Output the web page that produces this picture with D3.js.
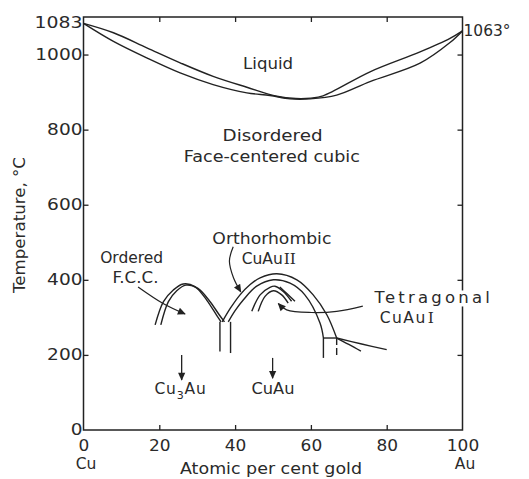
<!DOCTYPE html>
<html>
<head>
<meta charset="utf-8">
<script src="https://cdn.jsdelivr.net/npm/d3@7"></script>
<style>
  body { margin: 0; background: #fff; }
  svg text { font-family: "DejaVu Sans", sans-serif; fill: #2a2a2a; }
</style>
</head>
<body>
<div id="chart"></div>
<script>
// axes: atomic per cent gold / temperature in deg C
const xTicks = [0, 20, 40, 60, 80, 100];
const yTicks = [0, 200, 400, 600, 800, 1000];

// liquidus and solidus
const liquidus = [[0,1083],[7.9,1058],[16.7,1018],[25.5,978],[34.2,942],[43.1,913],[51,889],[56,883],[60,884],[63.2,890],[75.6,954],[88.8,1007],[96.7,1043],[100,1063]];
const solidus = [[0,1083],[7.9,1035],[16.7,991],[25.5,951],[34.2,920],[43.1,898],[49.2,891],[54.5,882],[59.8,882],[66.8,892],[75.6,928],[88.8,977],[96.7,1032],[100,1063]];

// Cu3Au ordered fcc dome
const cu3auOuter = [[18.9,280],[21.1,342],[23.7,373],[26.3,389],[29.4,382],[32.5,346],[35.1,306],[36.3,288]];
const cu3auInner = [[20.4,280],[22.4,342],[24.6,371],[27,386],[30.2,377],[33.3,343],[35.8,307],[37.2,288]];
const cu3auLeftWall = [[36.0,288],[36.0,209]];
const cu3auRightWall = [[38.8,288],[38.8,205]];

// CuAu II (orthorhombic) band
const cuauOuter = [[36.6,288],[38.8,325],[41.3,360],[43.9,387],[46.6,405],[51,416],[56.3,400],[60.6,360],[64.2,307],[66.8,245]];
const cuauInner = [[38.2,288],[40,318],[42.2,347],[45.7,383],[50.1,400],[54.5,391],[58.4,360],[62.4,285],[63.3,245]];
const cuauFloor = [[63.3,245],[66.8,245]];
const cuauLeftWall = [[63.3,245],[63.3,192]];
const cuauRightWall = [[66.8,245],[66.8,193]];
const tailUpper = [[66.8,245],[73.4,229],[80,214]];
const tailLower = [[66.8,245],[70,228],[73.2,210]];

// CuAu I (tetragonal) dome
const tetraOuter = [[44.4,316],[46.6,360],[49.2,380],[50.5,383],[52.7,369],[54.9,343]];
const tetraInner = [[46.1,316],[47.9,356],[50.1,371],[52.3,360],[54,338]];
const tetraArc = [[51.8,381],[53.8,362],[55.8,343]];

// leader arrows
const fccArrow = [[14.4,381],[21,337],[26.8,309]];
const orthoArrow = [[39.5,488],[38.5,450],[39.6,405],[41.5,368]];
const tetraArrow = [[73.7,330],[66.8,316],[60.2,313],[53.6,320],[51.4,337]];
const cu3auArrow = [[25.9,200],[25.9,133]];
const cuauArrow = [[49.9,192],[49.9,138]];

const W = 529, H = 479;
const svg = d3.select("#chart").append("svg")
  .attr("width", W).attr("height", H);

svg.append("rect").attr("width", W).attr("height", H).attr("fill", "#fff");

let x = d3.scaleLinear().domain([0, 100]).range([83.5, 462.5]);
let y = d3.scaleLinear().domain([0, 1100]).range([430, 17]);

let defs = svg.append("defs");
defs.append("marker")
  .attr("id", "head")
  .attr("viewBox", "0 0 10 10")
  .attr("refX", 9).attr("refY", 5)
  .attr("markerWidth", 9).attr("markerHeight", 8)
  .attr("markerUnits", "userSpaceOnUse")
  .attr("orient", "auto")
  .append("path")
    .attr("d", "M0,0.5 L10,5 L0,9.5 z")
    .attr("fill", "#222");

let ink = "#222";
let fs = 15.5;

// frame
svg.append("rect")
  .attr("x", x(0)).attr("y", y(1100))
  .attr("width", x(100) - x(0)).attr("height", y(0) - y(1100))
  .attr("fill", "none").attr("stroke", ink).attr("stroke-width", 1.5);

// axes with inward ticks
let fmt = d3.format("d");
let axisLeft = svg.append("g")
  .attr("transform", `translate(${x(0)},0)`)
  .call(d3.axisLeft(y).tickValues(yTicks).tickSize(-5).tickPadding(1).tickFormat(fmt));
let axisRight = svg.append("g")
  .attr("transform", `translate(${x(100)},0)`)
  .call(d3.axisRight(y).tickValues(yTicks.slice(1)).tickSize(-5).tickFormat(""));
let axisBottom = svg.append("g")
  .attr("transform", `translate(0,${y(0)})`)
  .call(d3.axisBottom(x).tickValues(xTicks).tickSize(-5).tickPadding(10).tickFormat(fmt));
let axisTop = svg.append("g")
  .attr("transform", `translate(0,${y(1100)})`)
  .call(d3.axisTop(x).tickValues(xTicks.slice(1, -1)).tickSize(-5).tickFormat(""));

[axisLeft, axisRight, axisBottom, axisTop].forEach(g => {
  g.select(".domain").remove();
  g.attr("font-family", null).attr("font-size", null);
  g.selectAll("line").attr("stroke", ink).attr("stroke-width", 1.3);
  g.selectAll("text").attr("font-size", fs).attr("fill", "#2a2a2a");
});
axisLeft.selectAll(".tick line").filter(d => d === 0).remove();
axisBottom.selectAll(".tick line").filter(d => d === 0 || d === 100).remove();
axisLeft.selectAll("text")
  .attr("textLength", d => String(d).length * 11.8)
  .attr("lengthAdjust", "spacingAndGlyphs");
axisBottom.selectAll("text")
  .attr("textLength", d => String(d).length * 10.8)
  .attr("lengthAdjust", "spacingAndGlyphs");

// boundaries
let smooth = d3.line().x(d => x(d[0])).y(d => y(d[1])).curve(d3.curveCatmullRom.alpha(0.5));
let straight = d3.line().x(d => x(d[0])).y(d => y(d[1]));

let curves = [liquidus, solidus, cu3auOuter, cu3auInner, cuauOuter, cuauInner,
  tetraOuter, tetraInner, tetraArc, tailUpper, tailLower];
svg.append("g").selectAll("path")
  .data(curves)
  .join("path")
    .attr("d", smooth)
    .attr("fill", "none")
    .attr("stroke", ink)
    .attr("stroke-width", 1.4);

let walls = [cu3auLeftWall, cu3auRightWall, cuauFloor, cuauLeftWall];
svg.append("g").selectAll("path")
  .data(walls)
  .join("path")
    .attr("d", straight)
    .attr("fill", "none")
    .attr("stroke", ink)
    .attr("stroke-width", 1.4);
svg.append("path")
  .attr("d", straight(cuauRightWall))
  .attr("fill", "none").attr("stroke", ink)
  .attr("stroke-width", 1.4).attr("stroke-dasharray", "7,3");

// leaders with arrow heads
let leaders = [fccArrow, orthoArrow, tetraArrow];
svg.append("g").selectAll("path")
  .data(leaders)
  .join("path")
    .attr("d", smooth)
    .attr("fill", "none")
    .attr("stroke", ink)
    .attr("stroke-width", 1.2)
    .attr("marker-end", "url(#head)");
svg.append("g").selectAll("path")
  .data([cu3auArrow, cuauArrow])
  .join("path")
    .attr("d", straight)
    .attr("fill", "none")
    .attr("stroke", ink)
    .attr("stroke-width", 1.3)
    .attr("marker-end", "url(#head)");

// labels
function label(px, t, str, width) {
  let el = svg.append("text")
    .attr("x", x(px)).attr("y", y(t))
    .attr("text-anchor", "middle")
    .attr("font-size", fs)
    .text(str);
  if (width) el.attr("textLength", width).attr("lengthAdjust", "spacingAndGlyphs");
  return el;
}

label(48.7, 961, "Liquid", 50);
label(49.9, 770, "Disordered", 100);
label(49.7, 713, "Face-centered cubic", 176);
label(49.7, 495, "Orthorhombic", 119);
label(12.7, 445, "Ordered", 63);
label(13.7, 392, "F.C.C.", 46);

// white gap in the right frame behind the tetragonal label
svg.append("rect")
  .attr("x", x(100) - 3).attr("y", y(337) - 13)
  .attr("width", 6).attr("height", 16)
  .attr("fill", "#fff");
svg.append("text")
  .attr("x", x(91.9) + 2).attr("y", y(337))
  .attr("text-anchor", "middle")
  .attr("font-size", 16.5)
  .attr("letter-spacing", 3.2)
  .text("Tetragonal");

let ortho = svg.append("text")
  .attr("x", x(48.9)).attr("y", y(442))
  .attr("text-anchor", "middle").attr("font-size", fs);
ortho.append("tspan").text("CuAu");
ortho.append("tspan").attr("font-family", "DejaVu Serif").attr("dx", 1).text("II");

let tetra = svg.append("text")
  .attr("x", x(85.5)).attr("y", y(286))
  .attr("text-anchor", "middle").attr("font-size", fs)
  .attr("letter-spacing", 1.5);
tetra.append("tspan").text("CuAu");
tetra.append("tspan").attr("font-family", "DejaVu Serif").attr("dx", 1).text("I");

let cu3 = svg.append("text")
  .attr("x", x(25.6)).attr("y", y(96))
  .attr("text-anchor", "middle").attr("font-size", fs)
  .attr("letter-spacing", 0.8);
cu3.append("tspan").text("Cu");
cu3.append("tspan").attr("font-size", 11).attr("dy", 5).text("3");
cu3.append("tspan").attr("dy", -5).text("Au");

label(50, 96, "CuAu", 43);

// end-point temperatures
svg.append("text")
  .attr("x", x(0) - 1).attr("y", y(1083) + 5)
  .attr("text-anchor", "end").attr("font-size", fs)
  .attr("textLength", 48).attr("lengthAdjust", "spacingAndGlyphs")
  .text("1083");
svg.append("text")
  .attr("x", x(100) + 1).attr("y", y(1063) + 5)
  .attr("font-size", fs)
  .attr("textLength", 47).attr("lengthAdjust", "spacingAndGlyphs")
  .text("1063°");

// component names under the ends of the axis
svg.append("text")
  .attr("x", x(0) + 2.5).attr("y", 469)
  .attr("text-anchor", "middle").attr("font-size", fs)
  .text("Cu");
svg.append("text")
  .attr("x", x(100) + 2.5).attr("y", 469)
  .attr("text-anchor", "middle").attr("font-size", fs)
  .text("Au");

// axis titles
svg.append("text")
  .attr("x", 271).attr("y", 474)
  .attr("text-anchor", "middle").attr("font-size", fs)
  .attr("textLength", 182).attr("lengthAdjust", "spacingAndGlyphs")
  .text("Atomic per cent gold");
svg.append("text")
  .attr("transform", "translate(25,225) rotate(-90)")
  .attr("text-anchor", "middle").attr("font-size", fs)
  .attr("textLength", 136).attr("lengthAdjust", "spacingAndGlyphs")
  .text("Temperature, °C");
</script>
</body>
</html>
